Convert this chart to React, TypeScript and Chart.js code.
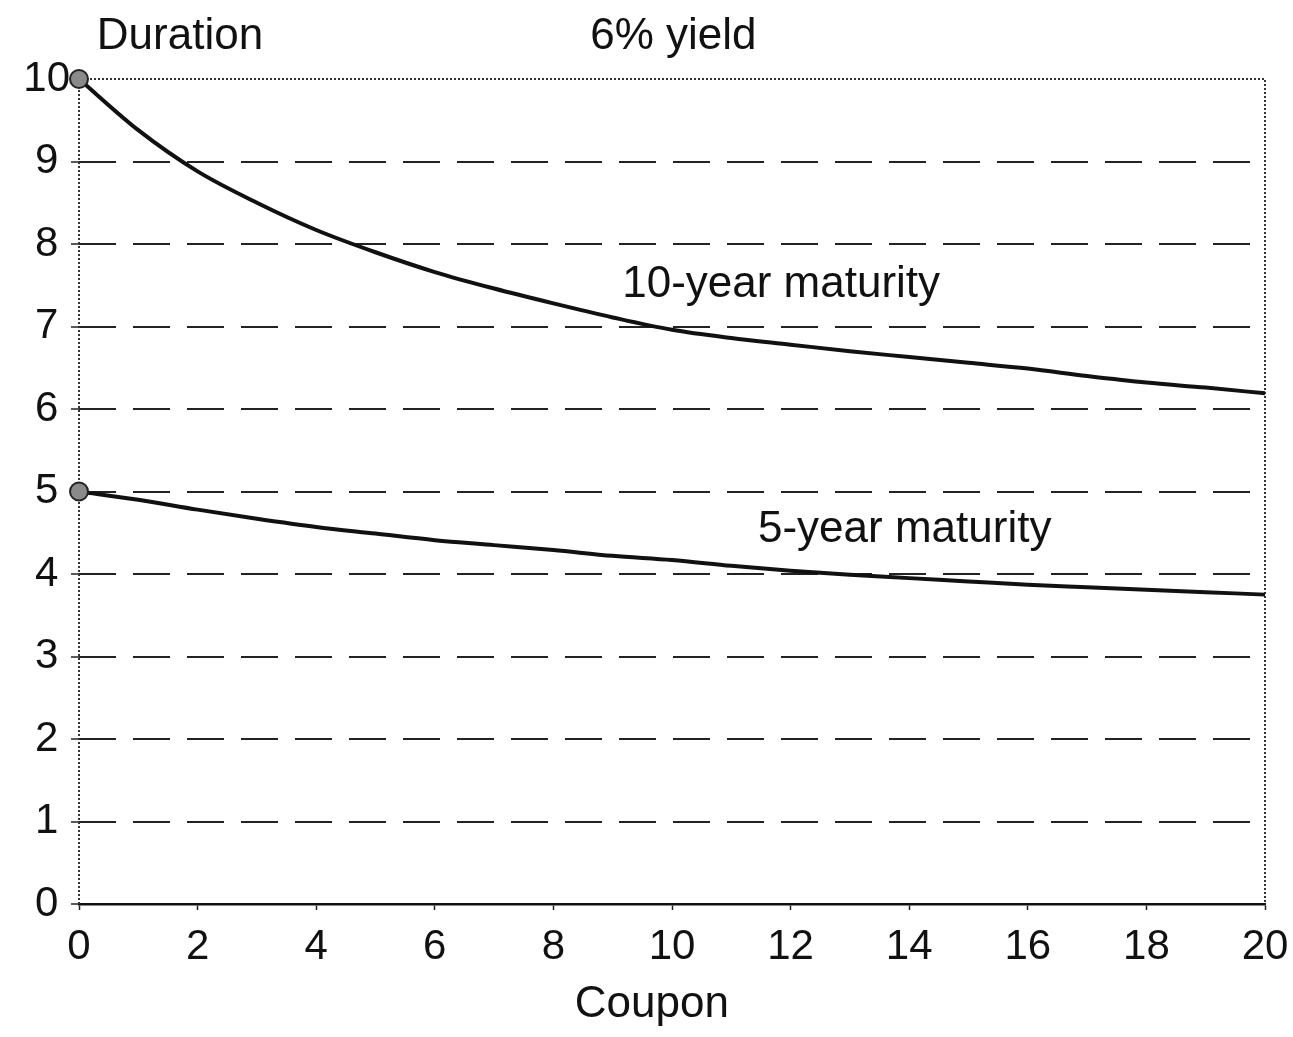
import React, { useEffect, useRef } from "react";
import { Chart, registerables } from "chart.js";

Chart.register(...registerables);

// ---- data ----
const coupons = [0, 1, 2, 3, 4, 5, 6, 7, 8, 9, 10, 11, 12, 13, 14, 15, 16, 17, 18, 19, 20];
const tenYearDuration = [10, 9.38, 8.88, 8.5, 8.17, 7.9, 7.66, 7.46, 7.28, 7.11, 6.96, 6.86, 6.78, 6.7, 6.63, 6.56, 6.49, 6.4, 6.32, 6.26, 6.19];
const fiveYearDuration = [5, 4.9, 4.78, 4.67, 4.57, 4.49, 4.41, 4.35, 4.29, 4.22, 4.17, 4.1, 4.04, 3.99, 3.95, 3.91, 3.87, 3.84, 3.81, 3.78, 3.75];
const xTickValues = [0, 2, 4, 6, 8, 10, 12, 14, 16, 18, 20];
const yTickValues = [0, 1, 2, 3, 4, 5, 6, 7, 8, 9, 10];
const labelTexts = ["Duration", "6% yield", "10-year maturity", "5-year maturity", "Coupon"];
const labelX = [0.3, 8.62, 9.16, 11.45, 9.66];
const labelY = [10.51, 10.51, 7.5, 4.53, -1.22];
const labelAlign = ["left", "left", "left", "left", "center"];

const FONT = "'Liberation Sans', Arial, Helvetica, sans-serif";

const framePlugin = {
  id: "frame",
  beforeDatasetsDraw(chart: any) {
    const { ctx, chartArea } = chart;
    const { left, right, top, bottom } = chartArea;
    ctx.save();
    ctx.strokeStyle = "#333";
    ctx.lineWidth = 2;
    ctx.setLineDash([2, 2]);
    ctx.beginPath();
    ctx.moveTo(left, bottom);
    ctx.lineTo(left, top);
    ctx.lineTo(right, top);
    ctx.lineTo(right, bottom);
    ctx.stroke();
    ctx.restore();
  },
};

const textPlugin = {
  id: "texts",
  afterDraw(chart: any) {
    const { ctx, scales } = chart;
    ctx.save();
    ctx.fillStyle = "#111";
    ctx.font = `44px ${FONT}`;
    ctx.textBaseline = "middle";
    labelTexts.forEach((t, i) => {
      ctx.textAlign = labelAlign[i];
      ctx.fillText(t, scales.x.getPixelForValue(labelX[i]), scales.y.getPixelForValue(labelY[i]));
    });
    ctx.restore();
  },
};

export default function App() {
  const ref = useRef<HTMLCanvasElement | null>(null);

  useEffect(() => {
    document.body.style.margin = "0";
    const canvas = ref.current;
    if (!canvas) return;
    const pointRadius = (c: any) => (c.dataIndex === 0 ? 9 : 0);
    const chart = new Chart(canvas, {
      type: "line",
      data: {
        labels: coupons,
        datasets: [
          {
            label: "10-year maturity",
            data: coupons.map((c, i) => ({ x: c, y: tenYearDuration[i] })),
            borderColor: "#111",
            borderWidth: 4,
            cubicInterpolationMode: "monotone",
            pointRadius,
            pointBackgroundColor: "#8a8a8a",
            pointBorderColor: "#222",
            pointBorderWidth: 2,
          },
          {
            label: "5-year maturity",
            data: coupons.map((c, i) => ({ x: c, y: fiveYearDuration[i] })),
            borderColor: "#111",
            borderWidth: 4,
            cubicInterpolationMode: "monotone",
            pointRadius,
            pointBackgroundColor: "#8a8a8a",
            pointBorderColor: "#222",
            pointBorderWidth: 2,
          },
        ],
      },
      options: {
        animation: false,
        responsive: false,
        clip: false,
        layout: { padding: { top: 79, right: 28, left: 0, bottom: 0 } },
        plugins: { legend: { display: false }, tooltip: { enabled: false } },
        scales: {
          x: {
            type: "linear",
            min: 0,
            max: 20,
            afterFit: (s: any) => {
              s.height = 133;
              s.paddingRight = 0;
              s.paddingLeft = 0;
            },
            afterBuildTicks: (s: any) => {
              s.ticks = xTickValues.map((v) => ({ value: v }));
            },
            grid: {
              drawOnChartArea: false,
              drawTicks: true,
              tickLength: 6,
              tickColor: "#222",
              tickWidth: 1.5,
            },
            border: { display: true, color: "#111", width: 2.5 },
            ticks: {
              color: "#111",
              padding: 12,
              maxRotation: 0,
              autoSkip: false,
              font: { family: FONT, size: 42 },
            },
          },
          y: {
            type: "linear",
            min: 0,
            max: 10,
            afterFit: (s: any) => {
              s.width = 79;
              s.paddingTop = 0;
              s.paddingBottom = 0;
            },
            afterBuildTicks: (s: any) => {
              s.ticks = yTickValues.map((v) => ({ value: v }));
            },
            grid: {
              color: (c: any) =>
                c.tick && (c.tick.value === 0 || c.tick.value === 10) ? "rgba(0,0,0,0)" : "#222",
              lineWidth: 2,
              drawTicks: true,
              tickLength: 8,
              tickColor: "#222",
              tickWidth: 1.5,
            },
            border: { display: false, dash: [37, 17] },
            ticks: {
              color: "#111",
              padding: 1,
              crossAlign: "center",
              autoSkip: false,
              font: { family: FONT, size: 42 },
            },
          },
        },
      },
      plugins: [framePlugin, textPlugin],
    } as any);
    return () => chart.destroy();
  }, []);

  return (
    <div style={{ width: 1293, height: 1037, background: "#fff" }}>
      <canvas ref={ref} width={1293} height={1037} style={{ display: "block" }} />
    </div>
  );
}
